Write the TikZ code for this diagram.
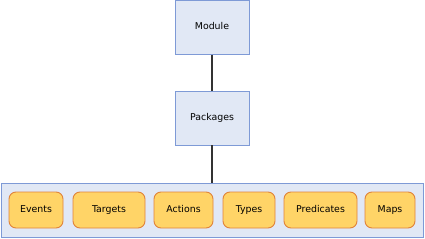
\documentclass[tikz,border=0pt]{standalone}
\usepackage{fontspec}
\setmainfont{DejaVu Sans}
\definecolor{bluefill}{HTML}{E1E8F5}
\definecolor{blueline}{HTML}{7E9AD6}
\definecolor{orangefill}{HTML}{FFD467}
\definecolor{orangeline}{HTML}{E0833A}
\definecolor{linkcol}{HTML}{333333}
\begin{document}
\begin{tikzpicture}[x=1pt,y=-1pt,
  txt/.style={font=\fontsize{9.4}{11}\selectfont,text height=7pt,text depth=2pt},
  bluebox/.style={draw=blueline,fill=bluefill,line width=0.9pt,inner sep=0pt,txt},
  item/.style={draw=orangeline,fill=orangefill,line width=0.9pt,rounded corners=7pt,inner sep=0pt,minimum height=36pt,txt},
  link/.style={draw=linkcol,line width=1.6pt}]
\useasboundingbox (0,0) rectangle (425,238);
\node[bluebox,minimum width=74pt,minimum height=53.5pt] (module) at (212,27.5) {Module};
\node[bluebox,minimum width=74pt,minimum height=54pt] (packages) at (212,118) {Packages};
\node[bluebox,minimum width=422pt,minimum height=54pt] (cont) at (212,210) {};
\node[item,minimum width=54pt] (events) at (36,210) {Events};
\node[item,minimum width=72pt] (targets) at (109,210) {Targets};
\node[item,minimum width=59pt] (actions) at (183.5,210) {Actions};
\node[item,minimum width=52pt] (types) at (249,210) {Types};
\node[item,minimum width=73pt] (predicates) at (320.5,210) {Predicates};
\node[item,minimum width=50pt] (maps) at (390,210) {Maps};
\draw[link] (module.south) -- (packages.north);
\draw[link] (packages.south) -- (cont.north);
\end{tikzpicture}
\end{document}
